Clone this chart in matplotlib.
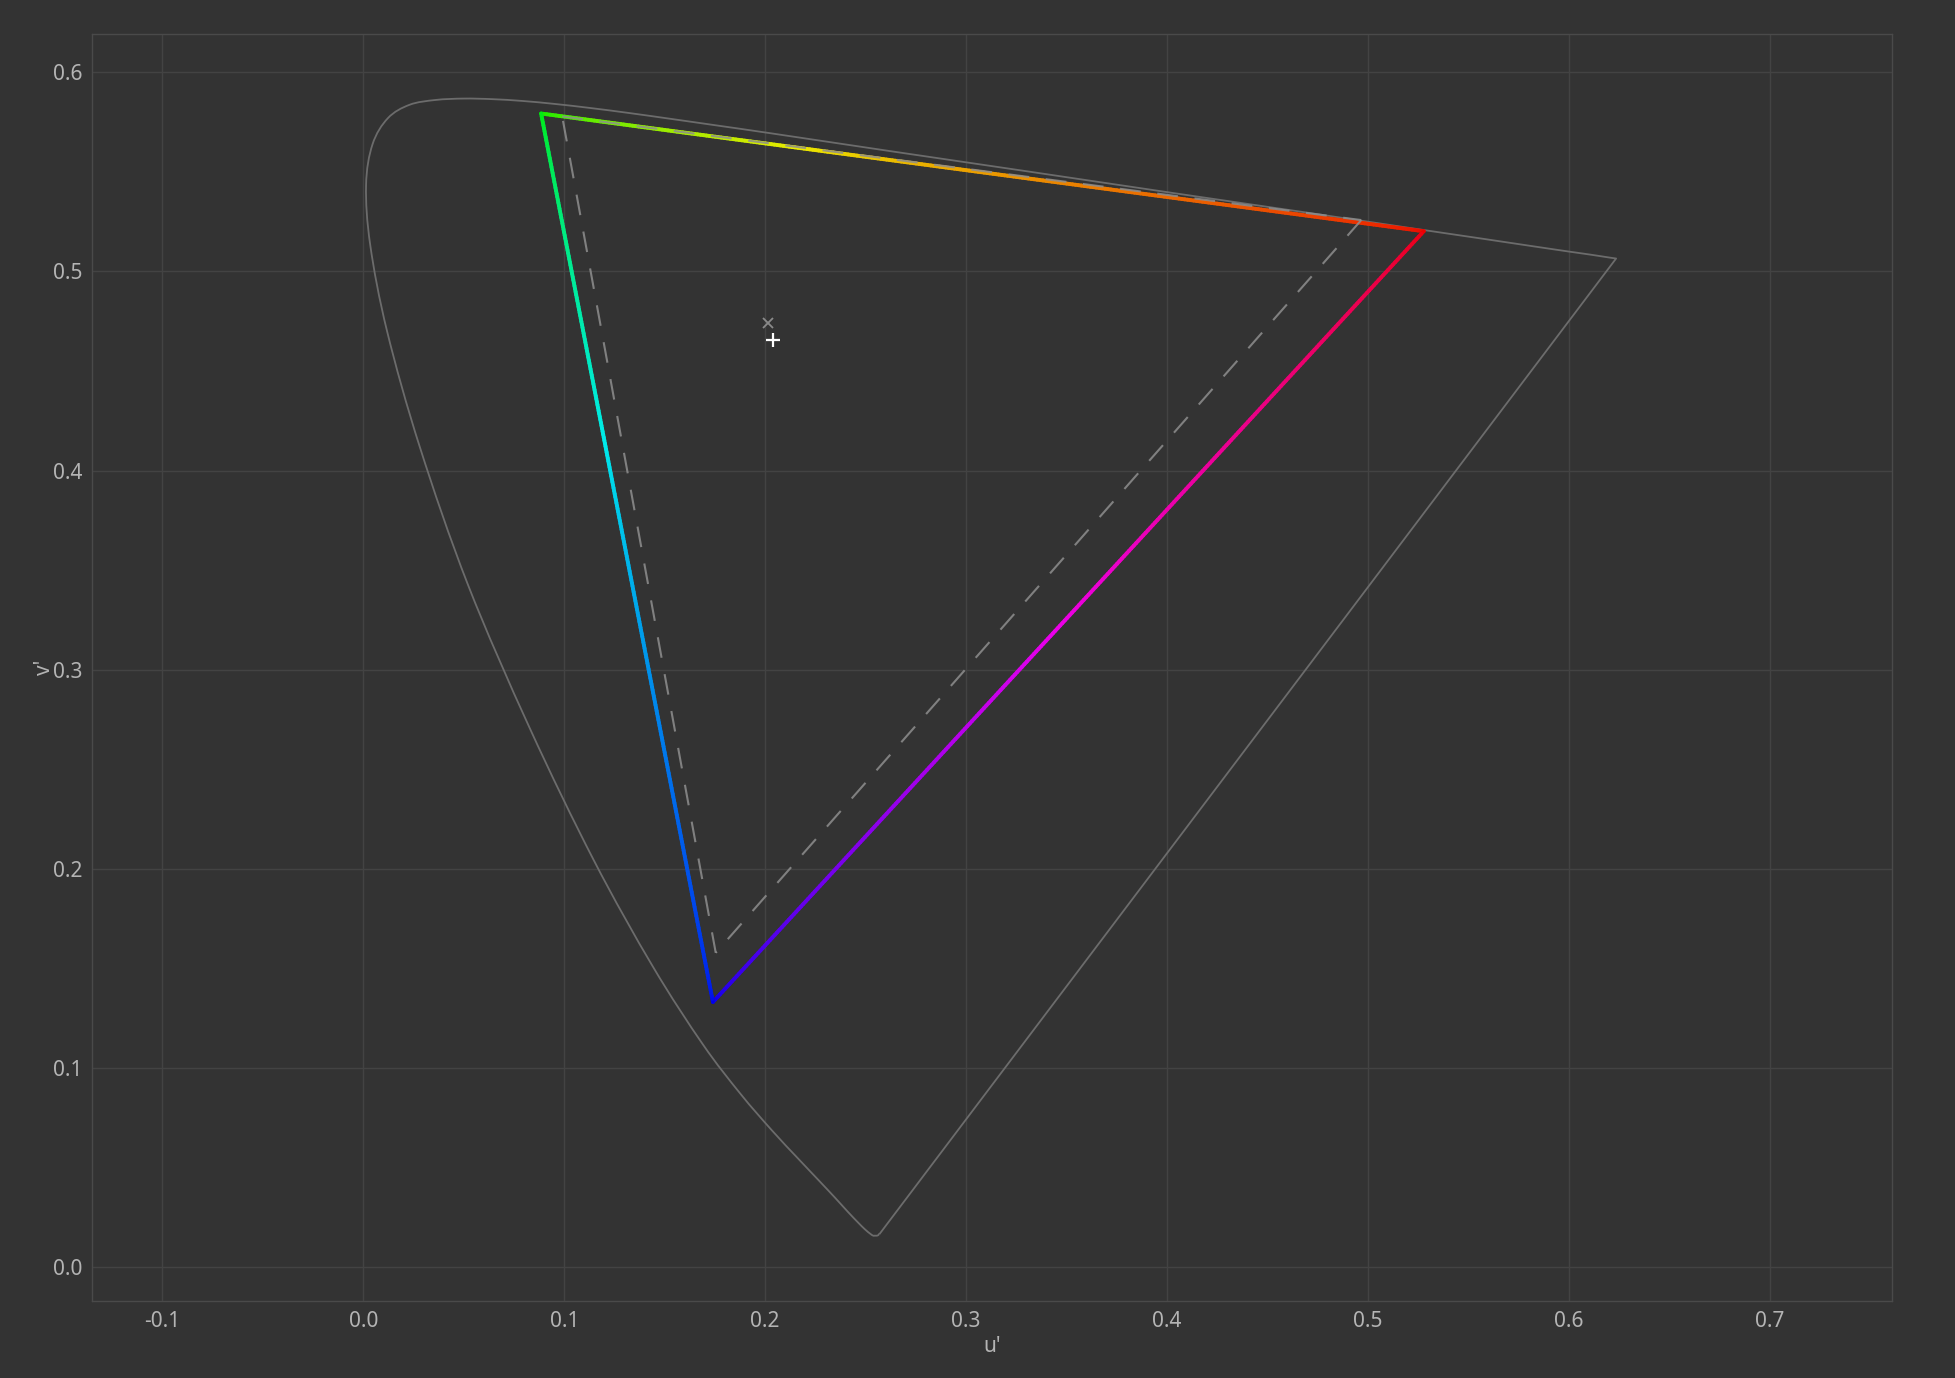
import numpy as np
import matplotlib
matplotlib.use("Agg")
import matplotlib.pyplot as plt
from matplotlib.collections import LineCollection
from matplotlib.path import Path
from matplotlib.patches import PathPatch

# ── Data ──────────────────────────────────────────────────────────────────────
# CIE 1976 spectral locus (u', v'), 380 nm -> 700 nm
locus_nm = [380, 385, 390, 400, 410, 415, 420, 425, 430, 435, 440, 445, 450,
            455, 460, 465, 470, 475, 480, 485, 490, 495, 500, 505, 510, 515,
            520, 525, 530, 535, 540, 545, 550, 555, 560, 565, 570, 580, 590,
            600, 610, 620, 630, 640, 650, 660, 680, 700]
locus_u = [0.2568, 0.2566, 0.2564, 0.2557, 0.2545, 0.2537, 0.2522, 0.2496,
           0.2461, 0.2411, 0.2347, 0.2266, 0.2161, 0.2033, 0.1877, 0.1690,
           0.1441, 0.1147, 0.0828, 0.0521, 0.0282, 0.0119, 0.0035, 0.0014,
           0.0046, 0.0123, 0.0231, 0.0360, 0.0501, 0.0643, 0.0792, 0.0953,
           0.1127, 0.1319, 0.1531, 0.1766, 0.2026, 0.2623, 0.3315, 0.4035,
           0.4692, 0.5203, 0.5565, 0.5830, 0.6005, 0.6109, 0.6199, 0.6234]
locus_v = [0.0166, 0.0166, 0.0163, 0.0159, 0.0159, 0.0159, 0.0169, 0.0191,
           0.0226, 0.0279, 0.0350, 0.0437, 0.0549, 0.0688, 0.0871, 0.1119,
           0.1510, 0.2044, 0.2708, 0.3427, 0.4117, 0.4698, 0.5131, 0.5432,
           0.5638, 0.5770, 0.5837, 0.5861, 0.5868, 0.5865, 0.5856, 0.5841,
           0.5821, 0.5796, 0.5766, 0.5732, 0.5694, 0.5604, 0.5501, 0.5393,
           0.5296, 0.5219, 0.5165, 0.5125, 0.5099, 0.5084, 0.5070, 0.5065]

# measured gamut primaries R, G, B
gamut_u = [0.5277, 0.0885, 0.1740]
gamut_v = [0.5202, 0.5793, 0.1332]

# reference gamut (DCI-P3) primaries R, G, B
ref_u = [0.4966, 0.0990, 0.1754]
ref_v = [0.5258, 0.5778, 0.1579]

# white points
ref_white = (0.2012, 0.4742)
meas_white = (0.2037, 0.4655)

# ── Style ─────────────────────────────────────────────────────────────────────
BG = "#333333"
GRID = "#434343"
TEXT = "#b4b4b4"

plt.rcParams["font.family"] = ["Noto Sans", "DejaVu Sans"]
plt.rcParams["axes.unicode_minus"] = False

fig = plt.figure(figsize=(19.56, 13.78), dpi=100, facecolor=BG)
ax = fig.add_axes([0.0469, 0.0559, 0.9204, 0.9194], facecolor=BG)

ax.set_xlim(-0.1351, 0.7607)
ax.set_ylim(-0.0169, 0.6192)
ax.set_xticks(np.arange(-0.1, 0.71, 0.1))
ax.set_yticks(np.arange(0.0, 0.61, 0.1))
ax.xaxis.set_major_formatter(plt.FormatStrFormatter("%.1f"))
ax.yaxis.set_major_formatter(plt.FormatStrFormatter("%.1f"))
ax.tick_params(length=0, colors=TEXT, labelsize=15, pad=7)
ax.grid(True, color=GRID, lw=1.0)
ax.set_axisbelow(True)
for sp in ax.spines.values():
    sp.set_color("#4a4a4a")
    sp.set_linewidth(1.0)

ax.set_xlabel("u'", color=TEXT, fontsize=15, labelpad=3)
ax.set_ylabel("v'", color=TEXT, fontsize=15, labelpad=-2)

# ── Spectral locus: smooth curve through the samples, closed by purple line ──
pts = np.column_stack([locus_u, locus_v])
verts = [pts[0]]
codes = [Path.MOVETO]
for i in range(len(pts) - 1):
    p0 = pts[max(i - 1, 0)]
    p1, p2 = pts[i], pts[i + 1]
    p3 = pts[min(i + 2, len(pts) - 1)]
    verts += [p1 + (p2 - p0) / 6, p2 - (p3 - p1) / 6, p2]
    codes += [Path.CURVE4] * 3
verts.append(pts[0])
codes.append(Path.LINETO)
ax.add_patch(PathPatch(Path(verts, codes), fill=False, edgecolor="#6c6c6c",
                       lw=1.3, joinstyle="round", zorder=2))

# ── Measured gamut with hue gradient along each edge ─────────────────────────
prim_rgb = [np.array([1.0, 0.0, 0.0]), np.array([0.0, 1.0, 0.0]),
            np.array([0.0, 0.0, 1.0])]
# (from, to, position of the 50/50 mix along the edge)
edges = [(1, 0, 0.29), (0, 2, 0.52), (2, 1, 0.63)]

for a, b, mid in edges:
    t = np.linspace(0, 1, 300)
    pu = gamut_u[a] + t * (gamut_u[b] - gamut_u[a])
    pv = gamut_v[a] + t * (gamut_v[b] - gamut_v[a])
    k = (1 - mid) / mid
    s = t * k / (t * k + (1 - t))
    cols = (1 - s)[:, None] * prim_rgb[a] + s[:, None] * prim_rgb[b]
    cols = cols / cols.max(axis=1, keepdims=True)
    cols = np.clip(cols, 0, 1) ** (1 / 2.2)
    cols = cols * 0.92
    seg_pts = np.column_stack([pu, pv]).reshape(-1, 1, 2)
    segs = np.concatenate([seg_pts[:-1], seg_pts[1:]], axis=1)
    lc = LineCollection(segs, colors=cols[:-1], linewidths=2.8,
                        capstyle="round", joinstyle="round", zorder=3)
    ax.add_collection(lc)

# ── Reference gamut (dashed) ─────────────────────────────────────────────────
for a, b in [(1, 0), (0, 2), (2, 1)]:
    ax.plot([ref_u[a], ref_u[b]], [ref_v[a], ref_v[b]], color="#8e8e8e",
            lw=1.5, ls=(0, (10, 8)), alpha=0.85, zorder=4)

# ── White points ─────────────────────────────────────────────────────────────
ax.plot(*ref_white, marker="x", color="#8a8a8a", ms=7, mew=1.3, zorder=5)
ax.plot(*meas_white, marker="+", color="white", ms=10, mew=1.6, zorder=5)

fig.savefig("out.png", dpi=100, facecolor=BG)
